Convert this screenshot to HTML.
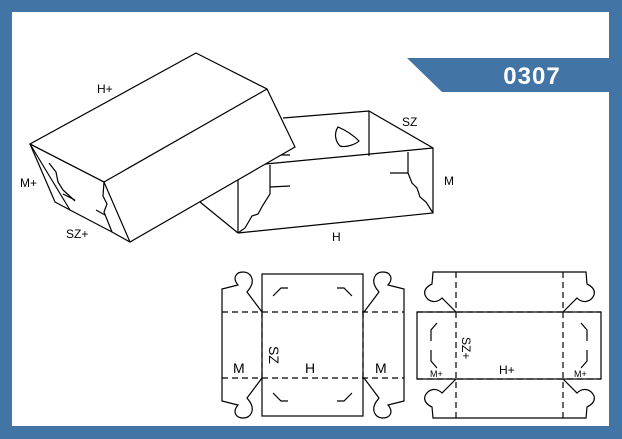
<!DOCTYPE html>
<html><head><meta charset="utf-8"><style>
html,body{margin:0;padding:0;background:#fff}
svg{display:block}
text{font-family:"Liberation Sans",sans-serif;fill:#000}
</style></head><body>
<svg width="622" height="439" viewBox="0 0 622 439" xmlns="http://www.w3.org/2000/svg">
<rect x="0" y="0" width="622" height="439" fill="#4374a6"/>
<rect x="12" y="12" width="597" height="414" fill="#fff"/>
<polygon points="407,58 609,58 609,92 442,92" fill="#4374a6"/>
<text x="532" y="84" font-size="24" font-weight="bold" fill="#fff" style="fill:#fff" text-anchor="middle" letter-spacing="1">0307</text>

<g fill="none" stroke="#000" stroke-width="1.2">
<polyline points="283,118 369,111 433,148 433,213 238,233"/>
<line x1="255" y1="165" x2="433" y2="148"/>
<line x1="369" y1="111" x2="369" y2="156"/>
<line x1="238" y1="180" x2="238" y2="233"/>
<line x1="270" y1="165" x2="270" y2="187"/>
<line x1="270" y1="155" x2="290" y2="155"/>
<line x1="270" y1="187" x2="290" y2="186"/>
<polyline points="270,187 270,194 263,205 258,214 252,216 245,228 238,233"/>
<line x1="408" y1="152" x2="408" y2="173"/>
<line x1="390" y1="173" x2="408" y2="173"/>
<polyline points="408,173 412,183 417,188 420,197 426,202 433,213"/>
<line x1="200" y1="202" x2="238" y2="233"/>
<path d="M338,127 C334,133 335,141 340,146 C346,148 356,144 359,141 C352,134 345,130 338,127 Z"/>
<polygon points="196,53 30,144 104,182 130,242 295,147 267,89" fill="#fff"/>
<line x1="104" y1="182" x2="267" y2="89"/>
<line x1="30" y1="144" x2="104" y2="182"/>
<polyline points="30,144 55,202 70,210 112,232 130,242"/>
<line x1="30" y1="144" x2="70" y2="210"/>
<polyline points="49,163 56,172 58,182 63,190 75,201"/>
<line x1="63" y1="194" x2="75" y2="200"/>
<polyline points="104,182 103,196 107,204 104,212 112,232"/>
<line x1="96" y1="210" x2="105" y2="215"/>
</g>
<g font-size="12">
<text x="97" y="93">H+</text>
<text x="20" y="187">M+</text>
<text x="66" y="238">SZ+</text>
<text x="402" y="126">SZ</text>
<text x="444" y="185">M</text>
<text x="332" y="241">H</text>
</g>

<g fill="none" stroke="#000" stroke-width="1.2">
<rect x="262" y="274" width="101" height="142"/>
<line x1="222" y1="312" x2="222" y2="378"/>
<line x1="404" y1="312" x2="404" y2="378"/>
<path d="M222,312 V289 L238,285 C232,278 236,272 243,272 C251,272 255,280 250,288 L247,292 L262,312"/>
<path d="M404,312 V289 L388,285 C394,278 390,272 383,272 C375,272 371,280 376,288 L379,292 L364,312"/>
<path d="M222,378 V401 L238,405 C232,412 236,418 243,418 C251,418 255,410 250,402 L247,398 L262,378"/>
<path d="M404,378 V401 L388,405 C394,412 390,418 383,418 C375,418 371,410 376,402 L379,398 L364,378"/>
<polyline points="273,296 281,288 288,288"/>
<polyline points="337,288 344,288 352,296"/>
<polyline points="273,393 281,401 288,401"/>
<polyline points="337,401 344,401 352,393"/>
<g stroke-dasharray="6,4">
<line x1="222" y1="312" x2="404" y2="312"/>
<line x1="222" y1="378" x2="404" y2="378"/>
<line x1="262" y1="312" x2="262" y2="378"/>
<line x1="363" y1="312" x2="363" y2="378"/>
</g>
<rect x="417" y="312" width="184" height="67"/>
<path d="M456,312 L442,298 C436,304 428,302 425,295 C423,288 430,285 432,284 L433,272 H586 L587,284 C589,285 596,288 594,295 C591,302 583,304 577,298 L563,312"/>
<path d="M456,379 L442,393 C436,387 428,389 425,396 C423,403 430,406 432,407 L433,418 H586 L587,407 C589,406 596,403 594,396 C591,389 583,387 577,393 L563,379"/>
<polyline points="437,323 431,330 431,341"/>
<polyline points="431,350 431,361 437,368"/>
<polyline points="581,323 587,330 587,341"/>
<polyline points="587,350 587,361 581,368"/>
<g stroke-dasharray="6,4">
<line x1="456" y1="272" x2="456" y2="418"/>
<line x1="563" y1="272" x2="563" y2="418"/>
<line x1="417" y1="312" x2="601" y2="312"/>
<line x1="417" y1="379" x2="601" y2="379"/>
</g>
</g>
<g font-size="14">
<text x="233" y="373">M</text>
<text x="305" y="373">H</text>
<text x="375" y="373">M</text>
<text x="0" y="0" transform="translate(269,346) rotate(90)">SZ</text>
</g>
<g font-size="12">
<text x="499" y="374">H+</text>
<text x="0" y="0" transform="translate(462,337) rotate(90)">SZ+</text>
</g>
<g font-size="9">
<text x="430" y="377">M+</text>
<text x="574" y="377">M+</text>
</g>
</svg>
</body></html>
